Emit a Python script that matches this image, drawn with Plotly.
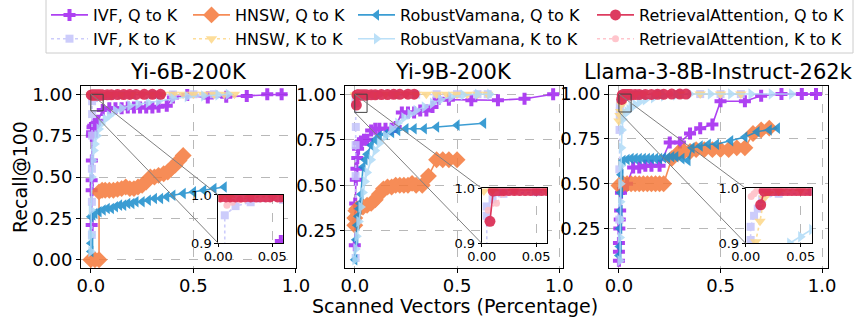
import plotly.graph_objects as go

W, H = 855, 321
ML, MR, MT, MB = 81, 27, 86, 53

PANEL_TITLES = ["Yi-6B-200K", "Yi-9B-200K", "Llama-3-8B-Instruct-262k"]
METHODS = ["IVF", "HNSW", "RobustVamana", "RetrievalAttention"]
KINDS = ["Q to K", "K to K"]
X_TICKS = [0.0, 0.5, 1.0]
Y_TICKS_1 = [0.0, 0.25, 0.5, 0.75, 1.0]
Y_TICKS_23 = [0.25, 0.5, 0.75, 1.0]
INSET_X_TICKS = [0.0, 0.05]
INSET_Y_TICKS = [0.9, 1.0]
X_LABEL = "Scanned Vectors (Percentage)"
Y_LABEL = "Recall@100"

# ---------------- Panel 1: Yi-6B-200K ----------------
P1_IVF_QK_X = [0.004, 0.004, 0.004, 0.005, 0.005, 0.006, 0.008, 0.012, 0.02, 0.035, 0.058, 0.09, 0.12, 0.15, 0.18, 0.21, 0.24, 0.27, 0.30, 0.33, 0.37, 0.40, 0.47, 0.57, 0.66, 0.76, 0.86, 0.93]
P1_IVF_QK_Y = [0.21, 0.42, 0.48, 0.60, 0.75, 0.77, 0.80, 0.81, 0.82, 0.84, 0.905, 0.915, 0.915, 0.915, 0.92, 0.92, 0.92, 0.92, 0.92, 0.925, 0.93, 0.98, 0.995, 0.98, 0.985, 0.99, 1.0, 1.0]
P1_IVF_KK_X = [0.005, 0.005, 0.005, 0.006, 0.006, 0.006, 0.016, 0.03, 0.06, 0.1, 0.15, 0.2, 0.3, 0.4, 0.5, 0.6]
P1_IVF_KK_Y = [0.15, 0.35, 0.55, 0.75, 0.88, 0.958, 0.977, 0.985, 0.99, 0.993, 0.995, 0.997, 0.998, 0.999, 1.0, 1.0]
P1_HNSW_QK_X = [0.0, 0.02, 0.04, 0.04, 0.055, 0.07, 0.09, 0.11, 0.13, 0.15, 0.17, 0.19, 0.21, 0.23, 0.25, 0.27, 0.29, 0.31, 0.33, 0.355, 0.375, 0.39, 0.41, 0.43, 0.45]
P1_HNSW_QK_Y = [0.0, 0.0, 0.0, 0.41, 0.42, 0.42, 0.42, 0.42, 0.425, 0.43, 0.44, 0.43, 0.43, 0.44, 0.45, 0.47, 0.50, 0.50, 0.51, 0.52, 0.53, 0.55, 0.57, 0.60, 0.63]
P1_HNSW_KK_X = [0.002, 0.01, 0.03, 0.06, 0.1, 0.15, 0.2, 0.25, 0.3, 0.35, 0.4, 0.45, 0.5, 0.55, 0.6, 0.65, 0.7]
P1_HNSW_KK_Y = [0.995, 0.996, 0.997, 0.997, 0.998, 0.999, 1.0, 1.0, 1.0, 1.0, 1.0, 1.0, 1.0, 1.0, 1.0, 1.0, 1.0]
P1_RV_QK_X = [0.0, 0.0, 0.0, 0.01, 0.02, 0.04, 0.06, 0.08, 0.1, 0.12, 0.14, 0.16, 0.18, 0.2, 0.22, 0.25, 0.28, 0.31, 0.34, 0.37, 0.4, 0.45, 0.5, 0.55, 0.6, 0.65]
P1_RV_QK_Y = [0.05, 0.1, 0.26, 0.27, 0.28, 0.29, 0.3, 0.31, 0.31, 0.32, 0.33, 0.33, 0.34, 0.34, 0.35, 0.35, 0.36, 0.37, 0.37, 0.38, 0.39, 0.4, 0.41, 0.42, 0.43, 0.44]
P1_RV_KK_X = [0.0, 0.0, 0.002, 0.005, 0.01, 0.015, 0.02, 0.03, 0.04, 0.05, 0.07, 0.09, 0.12, 0.15, 0.19, 0.23, 0.28, 0.33, 0.4, 0.47, 0.55, 0.62, 0.67]
P1_RV_KK_Y = [0.05, 0.15, 0.3, 0.5, 0.6, 0.66, 0.7, 0.75, 0.79, 0.82, 0.85, 0.87, 0.9, 0.915, 0.93, 0.94, 0.95, 0.96, 0.975, 0.985, 0.99, 0.995, 1.0]
P1_RA_QK_X = [0.002, 0.007, 0.011, 0.016, 0.021, 0.025, 0.03, 0.035, 0.039, 0.044, 0.048, 0.055, 0.058, 0.08, 0.1, 0.13, 0.16, 0.19, 0.22, 0.26, 0.30, 0.34]
P1_RA_QK_Y = [0.996, 0.996, 0.996, 0.996, 0.996, 0.996, 0.996, 0.996, 0.996, 0.996, 0.996, 0.996, 0.996, 0.997, 0.997, 0.998, 0.998, 0.999, 0.999, 1.0, 1.0, 1.0]
P1_RA_KK_X = [0.008, 0.013, 0.02, 0.03, 0.05, 0.08, 0.12, 0.18, 0.25, 0.33]
P1_RA_KK_Y = [0.979, 0.985, 0.99, 0.995, 0.997, 0.998, 1.0, 1.0, 1.0, 1.0]

# ---------------- Panel 2: Yi-9B-200K ----------------
P2_IVF_QK_X = [0.0, 0.002, 0.005, 0.008, 0.012, 0.016, 0.02, 0.03, 0.045, 0.06, 0.08, 0.1, 0.12, 0.15, 0.18, 0.2, 0.23, 0.26, 0.29, 0.32, 0.35, 0.38, 0.41, 0.46, 0.57, 0.7, 0.83, 0.97]
P2_IVF_QK_Y = [0.17, 0.4, 0.53, 0.59, 0.65, 0.7, 0.73, 0.74, 0.75, 0.75, 0.8, 0.81, 0.81, 0.81, 0.81, 0.82, 0.9, 0.9, 0.9, 0.91, 0.91, 0.93, 0.975, 0.97, 0.967, 0.967, 0.975, 1.0]
P2_IVF_KK_X = [0.004, 0.004, 0.004, 0.004, 0.005, 0.0045, 0.0045, 0.01, 0.02, 0.05, 0.1, 0.2, 0.3, 0.4, 0.5, 0.6, 0.65]
P2_IVF_KK_Y = [0.1, 0.3, 0.55, 0.72, 0.82, 0.95, 0.967, 0.98, 0.99, 0.993, 0.995, 0.997, 0.998, 1.0, 1.0, 1.0, 1.0]
P2_HNSW_QK_X = [0.0, 0.0, 0.005, 0.01, 0.02, 0.04, 0.06, 0.08, 0.1, 0.12, 0.14, 0.16, 0.18, 0.2, 0.22, 0.24, 0.26, 0.28, 0.3, 0.33, 0.36, 0.4, 0.43, 0.46, 0.5]
P2_HNSW_QK_Y = [0.28, 0.32, 0.36, 0.37, 0.37, 0.38, 0.39, 0.4, 0.42, 0.45, 0.48, 0.49, 0.49, 0.5, 0.5, 0.5, 0.5, 0.51, 0.5, 0.5, 0.55, 0.64, 0.64, 0.64, 0.64]
P2_HNSW_KK_X = [0.002, 0.01, 0.03, 0.06, 0.1, 0.15, 0.2, 0.25, 0.3, 0.35, 0.4, 0.45, 0.5, 0.55, 0.6, 0.65]
P2_HNSW_KK_Y = [0.995, 0.996, 0.997, 0.997, 0.998, 0.999, 1.0, 1.0, 1.0, 1.0, 1.0, 1.0, 1.0, 1.0, 1.0, 1.0]
P2_RV_QK_X = [0.0, 0.005, 0.01, 0.015, 0.02, 0.025, 0.03, 0.04, 0.05, 0.06, 0.08, 0.1, 0.12, 0.15, 0.18, 0.21, 0.25, 0.29, 0.34, 0.4, 0.5, 0.63]
P2_RV_QK_Y = [0.09, 0.2, 0.28, 0.33, 0.37, 0.4, 0.45, 0.6, 0.64, 0.67, 0.72, 0.75, 0.77, 0.78, 0.79, 0.8, 0.81, 0.81, 0.81, 0.82, 0.83, 0.84]
P2_RV_KK_X = [0.0, 0.005, 0.01, 0.02, 0.03, 0.04, 0.05, 0.06, 0.08, 0.1, 0.12, 0.15, 0.18, 0.21, 0.24, 0.27, 0.3, 0.34, 0.38, 0.42, 0.47, 0.53, 0.6, 0.66]
P2_RV_KK_Y = [0.09, 0.15, 0.22, 0.3, 0.38, 0.46, 0.52, 0.57, 0.64, 0.69, 0.73, 0.77, 0.81, 0.84, 0.87, 0.89, 0.91, 0.93, 0.95, 0.97, 0.985, 0.995, 1.0, 1.0]
P2_RA_QK_X = [0.0076, 0.0106, 0.013, 0.016, 0.02, 0.025, 0.03, 0.035, 0.04, 0.045, 0.05, 0.055, 0.06, 0.08, 0.1, 0.13, 0.16, 0.19, 0.22, 0.26, 0.29]
P2_RA_QK_Y = [0.94, 0.995, 0.996, 0.996, 0.996, 0.996, 0.996, 0.996, 0.996, 0.996, 0.996, 0.996, 0.996, 0.997, 0.997, 0.998, 0.998, 0.999, 0.999, 1.0, 1.0]
P2_RA_KK_X = [0.006, 0.0136, 0.02, 0.03, 0.05, 0.08, 0.12, 0.18, 0.25]
P2_RA_KK_Y = [0.96, 0.973, 0.99, 0.995, 0.997, 0.998, 1.0, 1.0, 1.0]

# ---------------- Panel 3: Llama-3-8B-Instruct-262k ----------------
P3_IVF_QK_X = [0.0, 0.0, 0.0, 0.002, 0.004, 0.006, 0.01, 0.02, 0.04, 0.07, 0.1, 0.13, 0.16, 0.2, 0.25, 0.3, 0.35, 0.4, 0.46, 0.5, 0.62, 0.7, 0.8, 0.9, 0.97]
P3_IVF_QK_Y = [0.07, 0.12, 0.17, 0.25, 0.3, 0.35, 0.45, 0.47, 0.5, 0.59, 0.59, 0.6, 0.6, 0.6, 0.73, 0.73, 0.78, 0.81, 0.83, 0.96, 0.96, 0.99, 1.0, 1.0, 1.0]
P3_IVF_KK_X = [0.002, 0.002, 0.003, 0.004, 0.0045, 0.0045, 0.0076, 0.011, 0.015, 0.03, 0.06, 0.1, 0.2, 0.3, 0.4, 0.5, 0.6]
P3_IVF_KK_Y = [0.3, 0.58, 0.8, 0.88, 0.906, 0.93, 0.95, 0.963, 0.98, 0.99, 0.995, 0.998, 1.0, 1.0, 1.0, 1.0, 1.0]
P3_HNSW_QK_X = [0.0, 0.02, 0.04, 0.06, 0.08, 0.1, 0.12, 0.14, 0.16, 0.18, 0.2, 0.22, 0.26, 0.29, 0.32, 0.35, 0.38, 0.42, 0.46, 0.5, 0.54, 0.58, 0.62, 0.66, 0.7, 0.74]
P3_HNSW_QK_Y = [0.49, 0.5, 0.5, 0.5, 0.5, 0.5, 0.5, 0.5, 0.5, 0.5, 0.5, 0.5, 0.64, 0.67, 0.68, 0.68, 0.69, 0.69, 0.69, 0.69, 0.69, 0.7, 0.7, 0.78, 0.8, 0.81]
P3_HNSW_KK_X = [0.0, 0.005, 0.009, 0.013, 0.0167, 0.02, 0.03, 0.05, 0.08, 0.12, 0.2, 0.3, 0.4, 0.5, 0.6]
P3_HNSW_KK_Y = [0.85, 0.88, 0.903, 0.94, 0.982, 0.99, 0.995, 0.997, 0.998, 1.0, 1.0, 1.0, 1.0, 1.0, 1.0]
P3_RV_QK_X = [0.0, 0.002, 0.004, 0.006, 0.008, 0.01, 0.02, 0.04, 0.06, 0.08, 0.1, 0.12, 0.14, 0.16, 0.18, 0.2, 0.22, 0.24, 0.26, 0.28, 0.31, 0.34, 0.36, 0.4, 0.44, 0.48, 0.55, 0.62, 0.68, 0.74, 0.78]
P3_RV_QK_Y = [0.1, 0.15, 0.25, 0.35, 0.45, 0.55, 0.63, 0.635, 0.64, 0.64, 0.64, 0.64, 0.64, 0.64, 0.64, 0.64, 0.645, 0.645, 0.65, 0.65, 0.64, 0.63, 0.7, 0.71, 0.72, 0.72, 0.74, 0.76, 0.79, 0.8, 0.81]
P3_RV_KK_X = [0.005, 0.006, 0.007, 0.008, 0.009, 0.01, 0.012, 0.015, 0.02, 0.03, 0.04, 0.05, 0.06, 0.08, 0.1, 0.13, 0.17, 0.22, 0.28, 0.35, 0.45, 0.55, 0.65, 0.75, 0.85]
P3_RV_KK_Y = [0.07, 0.2, 0.3, 0.4, 0.5, 0.6, 0.7, 0.8, 0.86, 0.89, 0.9, 0.912, 0.925, 0.94, 0.955, 0.968, 0.98, 0.99, 0.995, 1.0, 1.0, 1.0, 1.0, 1.0, 1.0]
P3_RA_QK_X = [0.0136, 0.0167, 0.02, 0.023, 0.026, 0.03, 0.034, 0.038, 0.042, 0.046, 0.05, 0.054, 0.058, 0.062, 0.08, 0.1, 0.13, 0.16, 0.19, 0.22, 0.26, 0.3, 0.33]
P3_RA_QK_Y = [0.97, 0.995, 0.996, 0.996, 0.996, 0.996, 0.996, 0.996, 0.996, 0.996, 0.996, 0.996, 0.996, 0.996, 0.997, 0.997, 0.998, 0.998, 0.999, 0.999, 1.0, 1.0, 1.0]
P3_RA_KK_X = [0.005, 0.0076, 0.01, 0.015, 0.02, 0.03, 0.05, 0.08, 0.12, 0.18, 0.25]
P3_RA_KK_Y = [0.985, 0.99, 0.995, 0.997, 0.998, 0.999, 1.0, 1.0, 1.0, 1.0, 1.0]

PANEL_DATA = [
    {"IVF": [(P1_IVF_QK_X, P1_IVF_QK_Y), (P1_IVF_KK_X, P1_IVF_KK_Y)],
     "HNSW": [(P1_HNSW_QK_X, P1_HNSW_QK_Y), (P1_HNSW_KK_X, P1_HNSW_KK_Y)],
     "RobustVamana": [(P1_RV_QK_X, P1_RV_QK_Y), (P1_RV_KK_X, P1_RV_KK_Y)],
     "RetrievalAttention": [(P1_RA_QK_X, P1_RA_QK_Y), (P1_RA_KK_X, P1_RA_KK_Y)]},
    {"IVF": [(P2_IVF_QK_X, P2_IVF_QK_Y), (P2_IVF_KK_X, P2_IVF_KK_Y)],
     "HNSW": [(P2_HNSW_QK_X, P2_HNSW_QK_Y), (P2_HNSW_KK_X, P2_HNSW_KK_Y)],
     "RobustVamana": [(P2_RV_QK_X, P2_RV_QK_Y), (P2_RV_KK_X, P2_RV_KK_Y)],
     "RetrievalAttention": [(P2_RA_QK_X, P2_RA_QK_Y), (P2_RA_KK_X, P2_RA_KK_Y)]},
    {"IVF": [(P3_IVF_QK_X, P3_IVF_QK_Y), (P3_IVF_KK_X, P3_IVF_KK_Y)],
     "HNSW": [(P3_HNSW_QK_X, P3_HNSW_QK_Y), (P3_HNSW_KK_X, P3_HNSW_KK_Y)],
     "RobustVamana": [(P3_RV_QK_X, P3_RV_QK_Y), (P3_RV_KK_X, P3_RV_KK_Y)],
     "RetrievalAttention": [(P3_RA_QK_X, P3_RA_QK_Y), (P3_RA_KK_X, P3_RA_KK_Y)]},
]

STYLE = {
    ("IVF", 0): dict(color="#a020f0", symbol="cross", size=10, dash="solid"),
    ("IVF", 1): dict(color="#c4c4fb", symbol="square", size=8, dash="dot"),
    ("HNSW", 0): dict(color="#f5793a", symbol="diamond", size=13, dash="solid"),
    ("HNSW", 1): dict(color="#fdd888", symbol="triangle-down", size=10, dash="dot"),
    ("RobustVamana", 0): dict(color="#1a8ccc", symbol="triangle-left", size=10, dash="solid"),
    ("RobustVamana", 1): dict(color="#b0dbf7", symbol="triangle-right", size=10, dash="solid"),
    ("RetrievalAttention", 0): dict(color="#d81b45", symbol="circle", size=11, dash="solid"),
    ("RetrievalAttention", 1): dict(color="#ffbcc4", symbol="circle", size=7, dash="dot"),
}

# layout geometry (paper fractions)
MAIN_XDOM = [[0.0, 0.2878], [0.3534, 0.6452], [0.7068, 1.0]]
MAIN_YDOM = [0.0, 1.0]
MAIN_XR = [[-0.048, 1.0], [-0.048, 1.018], [-0.049, 1.029]]
MAIN_YR = [[-0.05, 1.05], [0.045, 1.045], [0.03, 1.045]]
INSET_XDOM = [[0.1838, 0.2704], [0.5364, 0.6238], [0.8898, 0.9782]]
INSET_YDOM = [[0.1357, 0.4011], [0.1357, 0.4379], [0.1357, 0.4379]]
INSET_XR = [0.0, 0.06]
INSET_YR = [0.9, 1.0]
ZOOM_BOX = dict(x0=0.0, x1=0.06, y0=0.9, y1=1.0)

FONT = "DejaVu Sans"
GRID = "#b8b8b8"
plot_w = W - ML - MR
plot_h = H - MT - MB


def px_to_paper_x(px):
    return (px - ML) / plot_w


def px_to_paper_y(py):
    return (H - MB - py) / plot_h


fig = go.Figure()

LEGEND_NAMES = ["legend", "legend2", "legend3", "legend4"]
DRAW_ORDER = [("IVF", 0), ("IVF", 1), ("HNSW", 0), ("HNSW", 1),
              ("RobustVamana", 0), ("RobustVamana", 1),
              ("RetrievalAttention", 1), ("RetrievalAttention", 0)]

for p in range(3):
    for (m, k) in DRAW_ORDER:
        xs, ys = PANEL_DATA[p][m][k]
        st = STYLE[(m, k)]
        for inset in (False, True):
            ax = p + 1 + (3 if inset else 0)
            xa = "x" if ax == 1 else f"x{ax}"
            ya = "y" if ax == 1 else f"y{ax}"
            fig.add_trace(go.Scatter(
                x=xs, y=ys, mode="lines+markers",
                name=f"{m}, {KINDS[k]}",
                xaxis=xa, yaxis=ya,
                opacity=0.85,
                line=dict(color=st["color"], width=1.6, dash=st["dash"]),
                marker=dict(color=st["color"], symbol=st["symbol"], size=st["size"],
                            line=dict(width=0)),
                showlegend=(p == 0 and not inset),
                legend=LEGEND_NAMES[METHODS.index(m)],
                legendrank=k + 1,
                hoverinfo="skip",
            ))

axis_common = dict(showline=True, linecolor="black", linewidth=1, mirror=True,
                   ticks="outside", ticklen=4, tickwidth=1, tickcolor="black",
                   showgrid=True, gridcolor=GRID, griddash="dash", gridwidth=0.8,
                   zeroline=False, automargin=False,
                   tickfont=dict(family=FONT, size=18, color="black"))
layout = {}
for p in range(3):
    n = p + 1
    xk = "xaxis" if n == 1 else f"xaxis{n}"
    yk = "yaxis" if n == 1 else f"yaxis{n}"
    layout[xk] = dict(axis_common, domain=MAIN_XDOM[p], range=MAIN_XR[p],
                      anchor="y" if n == 1 else f"y{n}",
                      tickvals=X_TICKS, tickformat=".1f", ticklabelstandoff=-3)
    layout[yk] = dict(axis_common, domain=MAIN_YDOM, range=MAIN_YR[p],
                      anchor="x" if n == 1 else f"x{n}",
                      tickvals=Y_TICKS_1 if p == 0 else Y_TICKS_23, tickformat=".2f")
    ni = p + 4
    inset_common = dict(axis_common, tickfont=dict(family=FONT, size=13, color="black"), ticklen=3)
    layout[f"xaxis{ni}"] = dict(inset_common, domain=INSET_XDOM[p], range=INSET_XR,
                                anchor=f"y{ni}", tickvals=INSET_X_TICKS, tickformat=".2f",
                                ticklabelstandoff=-2)
    layout[f"yaxis{ni}"] = dict(inset_common, domain=INSET_YDOM[p], range=INSET_YR,
                                anchor=f"x{ni}", tickvals=INSET_Y_TICKS, tickformat=".1f")


def to_paper(xv, yv, p):
    xd, yd, xr, yr = MAIN_XDOM[p], MAIN_YDOM, MAIN_XR[p], MAIN_YR[p]
    px = xd[0] + (xv - xr[0]) / (xr[1] - xr[0]) * (xd[1] - xd[0])
    py = yd[0] + (yv - yr[0]) / (yr[1] - yr[0]) * (yd[1] - yd[0])
    return px, py


shapes = []
for p in range(3):
    n = p + 1
    xa = "x" if n == 1 else f"x{n}"
    ya = "y" if n == 1 else f"y{n}"
    shapes.append(dict(type="rect", xref=xa, yref=ya, layer="above",
                       line=dict(color="#444444", width=1), **ZOOM_BOX))
    ax0, ay1 = to_paper(ZOOM_BOX["x0"], ZOOM_BOX["y1"], p)
    ax0b, ay0 = to_paper(ZOOM_BOX["x0"], ZOOM_BOX["y0"], p)
    shapes.append(dict(type="line", xref="paper", yref="paper", layer="above",
                       x0=ax0, y0=ay1, x1=INSET_XDOM[p][0], y1=INSET_YDOM[p][1],
                       line=dict(color="#808080", width=1)))
    shapes.append(dict(type="line", xref="paper", yref="paper", layer="above",
                       x0=ax0b, y0=ay0, x1=INSET_XDOM[p][0], y1=INSET_YDOM[p][0],
                       line=dict(color="#808080", width=1)))

# legend frame
shapes.append(dict(type="rect", xref="paper", yref="paper", layer="below",
                   x0=px_to_paper_x(46), x1=px_to_paper_x(853),
                   y0=px_to_paper_y(53), y1=px_to_paper_y(-1),
                   line=dict(color="#cccccc", width=1), fillcolor="rgba(255,255,255,0.8)"))

annotations = []
for p in range(3):
    cx = (MAIN_XDOM[p][0] + MAIN_XDOM[p][1]) / 2
    annotations.append(dict(text=PANEL_TITLES[p], xref="paper", yref="paper",
                            x=cx, y=px_to_paper_y(72), xanchor="center", yanchor="middle",
                            showarrow=False, font=dict(family=FONT, size=21, color="black")))
annotations.append(dict(text=X_LABEL, xref="paper", yref="paper", x=0.5,
                        y=px_to_paper_y(306), xanchor="center", yanchor="middle",
                        showarrow=False, font=dict(family=FONT, size=19, color="black")))
annotations.append(dict(text=Y_LABEL, xref="paper", yref="paper", x=px_to_paper_x(20),
                        y=0.5, xanchor="center", yanchor="middle", textangle=-90,
                        showarrow=False, font=dict(family=FONT, size=19, color="black")))

LEGEND_X_PX = [46, 188, 353, 592]
for i, lname in enumerate(LEGEND_NAMES):
    layout[lname] = dict(xref="paper", yref="paper", x=px_to_paper_x(LEGEND_X_PX[i]),
                         y=px_to_paper_y(-2), xanchor="left", yanchor="top",
                         orientation="v", bgcolor="rgba(0,0,0,0)", borderwidth=0,
                         font=dict(family=FONT, size=16, color="black"),
                         itemwidth=37, tracegroupgap=0)

fig.update_layout(
    width=W, height=H,
    margin=dict(l=ML, r=MR, t=MT, b=MB, pad=0, autoexpand=False),
    paper_bgcolor="white", plot_bgcolor="white",
    font=dict(family=FONT, color="black"),
    shapes=shapes, annotations=annotations,
    **layout,
)

fig.write_html("out.html", config={"displayModeBar": False},
               post_script="document.body.style.margin='0px';document.body.style.overflow='hidden';")
